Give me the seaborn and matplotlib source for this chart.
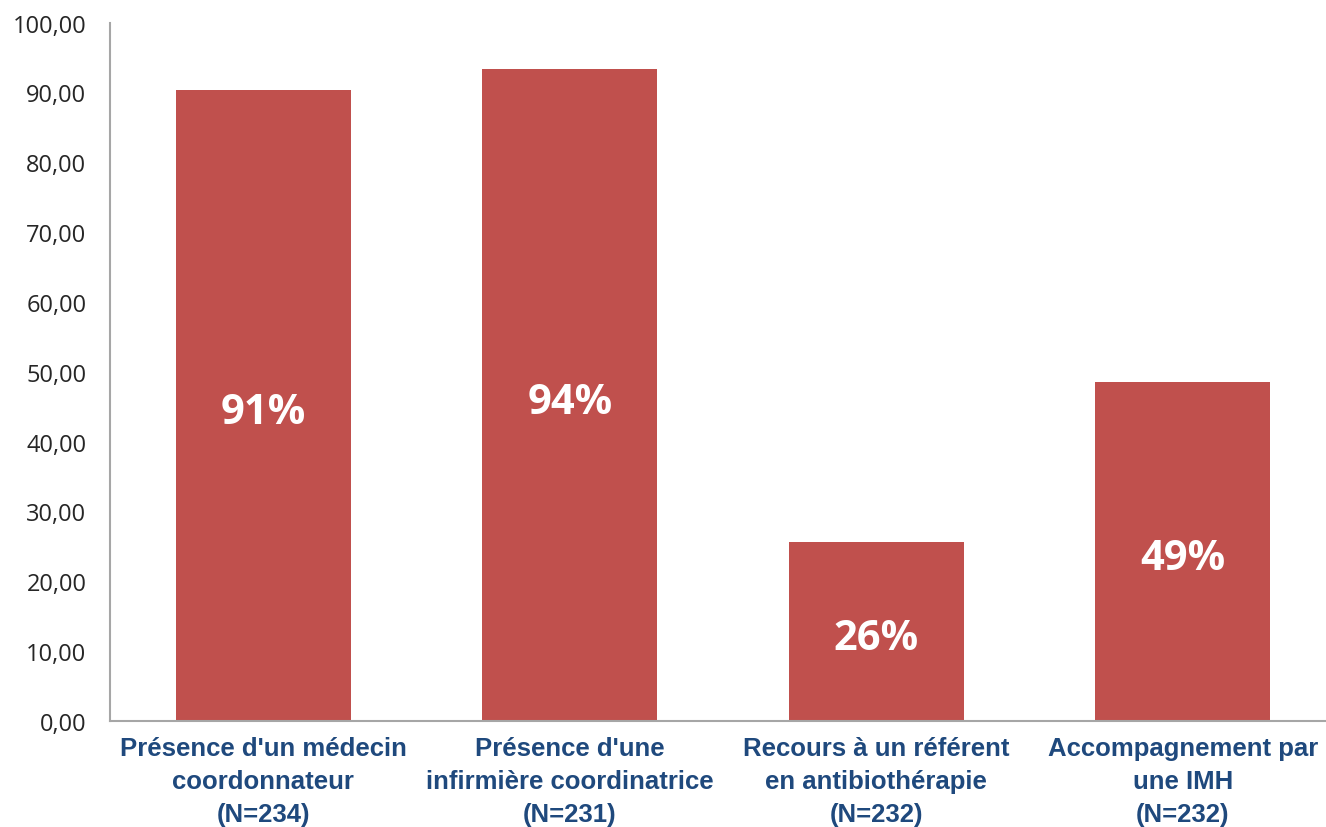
import matplotlib
matplotlib.use("Agg")
import matplotlib.pyplot as plt
import pandas as pd
import seaborn as sns

categories = [
    "Présence d'un médecin\ncoordonnateur\n(N=234)",
    "Présence d'une\ninfirmière coordinatrice\n(N=231)",
    "Recours à un référent\nen antibiothérapie\n(N=232)",
    "Accompagnement par\nune IMH\n(N=232)",
]
values = [90.4, 93.3, 25.6, 48.6]
bar_labels = ["91%", "94%", "26%", "49%"]
y_ticks = [0, 10, 20, 30, 40, 50, 60, 70, 80, 90, 100]

df = pd.DataFrame({"Categorie": categories, "Valeur": values})

sns.set_style("white")
plt.rcParams["font.family"] = ["Liberation Sans", "DejaVu Sans"]

fig = plt.figure(figsize=(13.26, 8.28), dpi=100)
ax = fig.add_axes([0.083, 0.128, 0.9245, 0.8435])

sns.barplot(x="Categorie", y="Valeur", data=df, ax=ax, color="#C0504D",
            saturation=1, width=0.57, edgecolor="none")

ax.set_xlim(-0.5, 3.5)
ax.set_ylim(0, 100)
ax.set_yticks(y_ticks)
ax.set_yticklabels([f"{t:.2f}".replace(".", ",") for t in y_ticks],
                   fontsize=17, family=["Open Sans", "DejaVu Sans"])
ax.set_xticks(range(len(categories)))
ax.set_xticklabels(categories, fontsize=18.5, fontweight="bold", color="#1F497D",
                   linespacing=1.46)
ax.tick_params(axis="y", length=0, pad=17)
ax.tick_params(axis="x", length=0, pad=11)
ax.set_xlabel("")
ax.set_ylabel("")

for side in ["top", "right"]:
    ax.spines[side].set_visible(False)
for side in ["left", "bottom"]:
    ax.spines[side].set_color("#A6A6A6")
    ax.spines[side].set_linewidth(1.5)

for i, (v, lab) in enumerate(zip(values, bar_labels)):
    ax.annotate(lab, xy=(i, v / 2), xytext=(0, -5), textcoords="offset points",
                ha="center", va="center", color="white",
                fontsize=30, fontweight="bold", family=["Open Sans", "DejaVu Sans"])

fig.savefig("out.png", dpi=100)
